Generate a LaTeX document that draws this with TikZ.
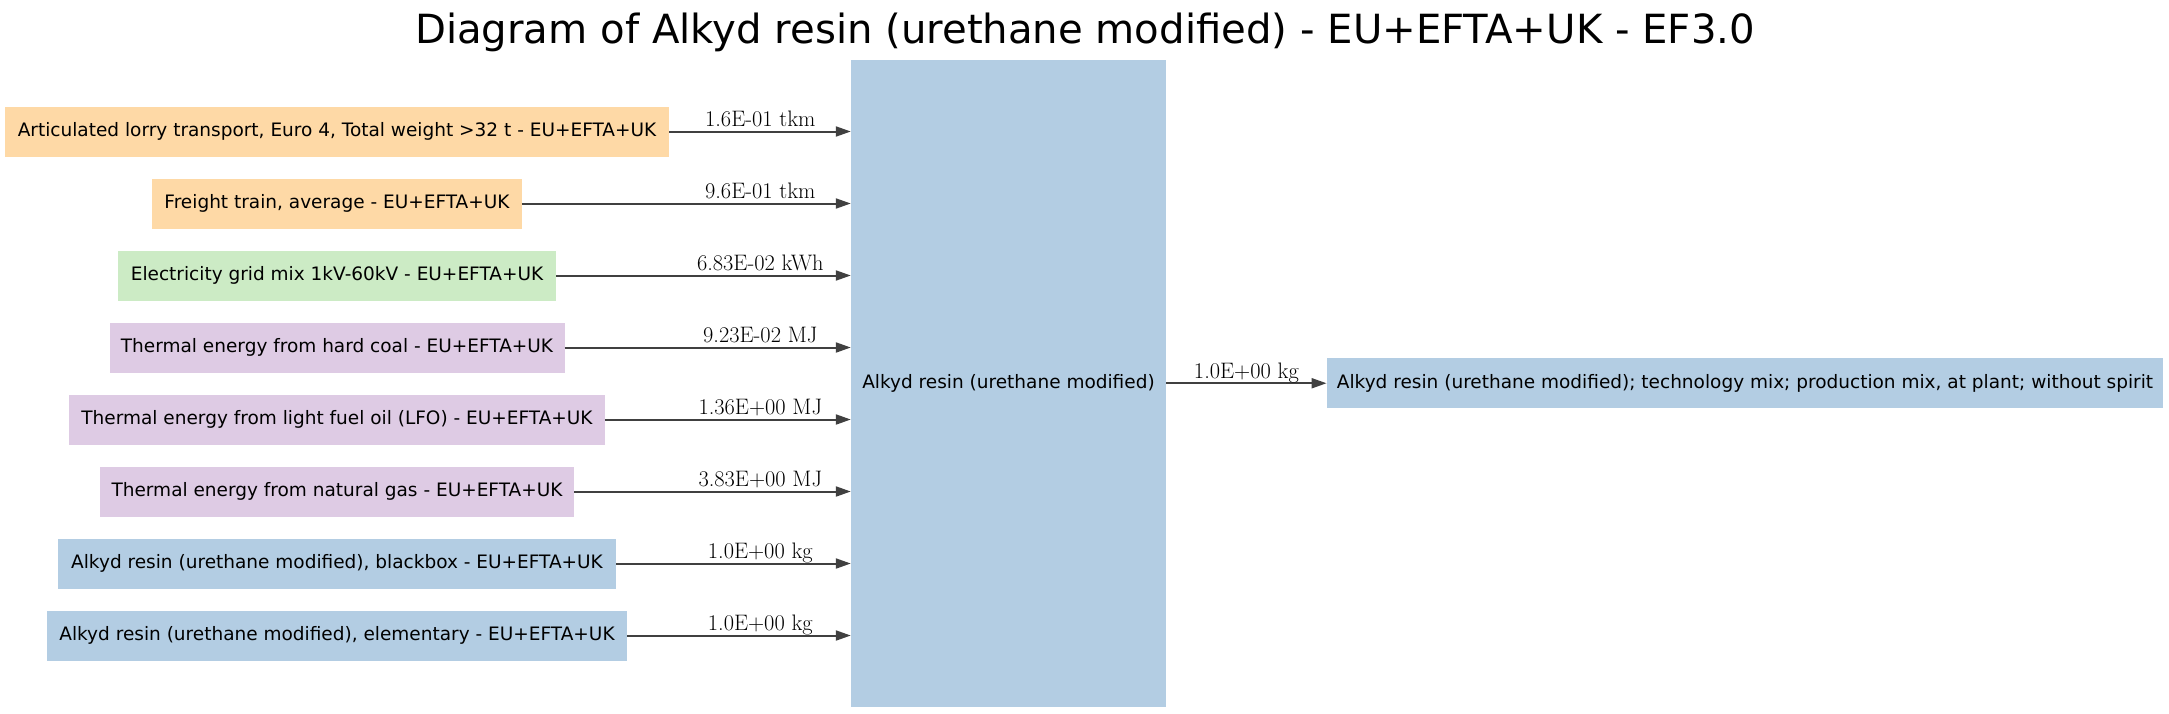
\documentclass[tikz,border=0pt]{standalone}
\usepackage{fontspec}
\newfontfamily\dejavu{DejaVu Sans}
\usetikzlibrary{arrows.meta,calc}
\definecolor{pOrange}{HTML}{FED9A6}
\definecolor{pGreen}{HTML}{CCEBC5}
\definecolor{pPurple}{HTML}{DECBE4}
\definecolor{pBlue}{HTML}{B3CDE3}
\definecolor{edgegray}{HTML}{404040}
\tikzset{
  proc/.style={rectangle, draw=none, inner sep=0pt, minimum height=50pt,
    font=\dejavu\fontsize{18.5}{22}\selectfont, text=black},
  flow/.style={draw=edgegray, line width=2pt, -{Triangle[length=15pt,width=10pt]}},
  lab/.style={anchor=base, inner sep=0pt, font=\fontsize{22.4}{26}\selectfont, text=black},
}
\begin{document}
\begin{tikzpicture}[x=1pt,y=-1pt]
\useasboundingbox (0,0) rectangle (2169,713);
\node[font=\dejavu\fontsize{40.2}{46}\selectfont, inner sep=0pt] (title) at (1085,32) {Diagram of Alkyd resin (urethane modified) - EU+EFTA+UK - EF3.0};

\node[proc, fill=pBlue, minimum width=315pt, minimum height=647.5pt] (c) at (1008.5,383.25) {Alkyd resin (urethane modified)};
\node[proc, fill=pBlue, minimum width=836.5pt] (out) at (1745,383.25) {Alkyd resin (urethane modified); technology mix; production mix, at plant; without spirit};

\node[proc, fill=pOrange, minimum width=664pt]   (b1) at (337,131.5) {Articulated lorry transport, Euro 4, Total weight >32 t - EU+EFTA+UK};
\node[proc, fill=pOrange, minimum width=369.5pt] (b2) at (337,203.5) {Freight train, average - EU+EFTA+UK};
\node[proc, fill=pGreen,  minimum width=438.4pt] (b3) at (337,275.5) {Electricity grid mix 1kV-60kV - EU+EFTA+UK};
\node[proc, fill=pPurple, minimum width=455pt]   (b4) at (337,347.5) {Thermal energy from hard coal - EU+EFTA+UK};
\node[proc, fill=pPurple, minimum width=535.5pt] (b5) at (337,419.5) {Thermal energy from light fuel oil (LFO) - EU+EFTA+UK};
\node[proc, fill=pPurple, minimum width=474.4pt] (b6) at (337,491.5) {Thermal energy from natural gas - EU+EFTA+UK};
\node[proc, fill=pBlue,   minimum width=557.6pt] (b7) at (337,563.5) {Alkyd resin (urethane modified), blackbox - EU+EFTA+UK};
\node[proc, fill=pBlue,   minimum width=579.6pt] (b8) at (337,635.5) {Alkyd resin (urethane modified), elementary - EU+EFTA+UK};

\foreach \b/\t in {b1/1.6E-01 tkm, b2/9.6E-01 tkm, b3/6.83E-02 kWh, b4/9.23E-02 MJ,
                   b5/1.36E+00 MJ, b6/3.83E+00 MJ, b7/1.0E+00 kg, b8/1.0E+00 kg}{
  \draw[flow] (\b.east) -- (c.west |- \b.east);
  \node[lab] at ($(c.west |- \b.east)+(-90.5,-5)$) {\t};
}
\draw[flow] (c.east |- out.west) -- node[lab, pos=0.5, yshift=5pt] {1.0E+00 kg} (out.west);
\end{tikzpicture}
\end{document}
